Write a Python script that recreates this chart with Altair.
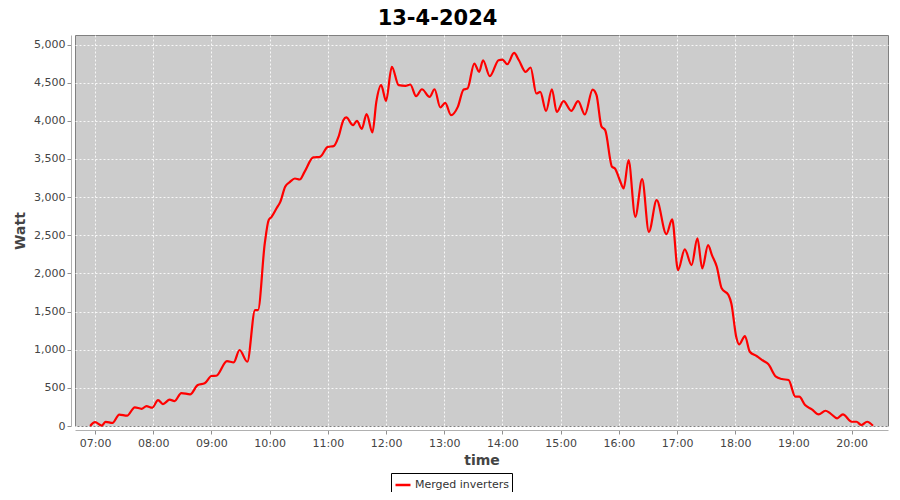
import altair as alt
import pandas as pd

# ---- data ----
times = ["06:55","07:00","07:07","07:11","07:18","07:25","07:33","07:41","07:48","07:53",
         "07:59","08:05","08:10","08:17","08:22","08:29","08:38","08:46","08:53","09:00",
         "09:05","09:16","09:23","09:29","09:37","09:45","09:48","09:55","09:59","10:02",
         "10:07","10:11","10:16","10:21","10:26","10:31","10:36","10:45","10:52","11:00",
         "11:06","11:11","11:16","11:19","11:26","11:30","11:35","11:40","11:46","11:50",
         "11:55","12:00","12:06","12:13","12:20","12:25","12:31","12:37","12:45","12:50",
         "12:56","13:01","13:07","13:14","13:20","13:24","13:31","13:36","13:40","13:47",
         "13:56","14:00","14:05","14:12","14:17","14:24","14:29","14:35","14:39","14:45",
         "14:51","14:56","15:03","15:11","15:18","15:25","15:33","15:37","15:42","15:46",
         "15:53","15:56","16:01","16:05","16:10","16:17","16:24","16:31","16:39","16:49",
         "16:55","17:01","17:08","17:15","17:21","17:26","17:32","17:36","17:41","17:46",
         "17:53","17:56","18:01","18:04","18:10","18:15","18:22","18:29","18:34","18:42",
         "18:48","18:55","19:02","19:06","19:12","19:19","19:26","19:33","19:38","19:45",
         "19:51","20:00","20:05","20:10","20:16","20:22"]
watts = [0,50,5,55,40,150,135,245,225,260,
         240,340,288,345,327,432,415,537,559,655,
         659,851,834,996,842,1520,1520,2393,2698,2742,
         2851,2938,3135,3200,3244,3231,3331,3520,3528,3659,
         3668,3790,4008,4044,3943,3999,3895,4087,3847,4248,
         4467,4261,4707,4467,4458,4476,4323,4414,4314,4414,
         4175,4235,4074,4183,4410,4423,4751,4641,4794,4585,
         4794,4803,4742,4890,4794,4641,4699,4358,4379,4130,
         4414,4117,4257,4130,4257,4083,4410,4336,3930,3877,
         3397,3375,3222,3114,3484,2742,3235,2545,2960,2515,
         2708,2043,2315,2109,2459,2066,2371,2240,2087,1804,
         1716,1607,1170,1070,1179,973,917,855,812,646,
         616,603,384,384,275,219,153,200,166,101,
         153,56,56,13,56,4]
series_name = "Merged inverters"
hour_ticks = list(range(7, 21))
watt_ticks = list(range(0, 5001, 500))

def to_hours(s):
    h, m = s.split(":")
    return int(h) + int(m) / 60.0

df = pd.DataFrame({
    "hour": [to_hours(t) for t in times],
    "Watt": watts,
    "series": [series_name] * len(times),
})

label_expr = "(datum.value < 10 ? '0' : '') + datum.value + ':00'"

line = alt.Chart(df).mark_line(strokeWidth=2.2, interpolate="monotone").encode(
    x=alt.X("hour:Q",
            scale=alt.Scale(domain=[6.656, 20.625], nice=False, zero=False),
            axis=alt.Axis(values=hour_ticks, labelExpr=label_expr, title="time",
                          offset=4, tickSize=4, labelPadding=3, titlePadding=5,
                          grid=True)),
    y=alt.Y("Watt:Q",
            scale=alt.Scale(domain=[0, 5125], nice=False),
            axis=alt.Axis(values=watt_ticks, format=",d", title="Watt",
                          offset=4, tickSize=4, labelPadding=2, titlePadding=6,
                          grid=True)),
    color=alt.Color("series:N",
                    scale=alt.Scale(domain=[series_name], range=["#ff0000"]),
                    legend=alt.Legend(title=None, orient="none",
                                      legendX=316, legendY=438,
                                      symbolType="stroke", symbolSize=225,
                                      symbolStrokeWidth=2.5,
                                      strokeColor="black", padding=3,
                                      labelFontSize=11, labelColor="#333333",
                                      labelFont="DejaVu Sans", labelOffset=3,
                                      direction="horizontal")),
)

chart = line.properties(
    width=813,
    height=391,
    background="white",
    title=alt.TitleParams("13-4-2024", fontSize=21, font="DejaVu Sans",
                          fontWeight="bold", color="black", anchor="middle",
                          dx=-44, offset=6),
    autosize=alt.AutoSizeParams(type="none"),
    padding={"left": 67, "top": 27, "right": 4, "bottom": 66},
).configure_view(
    fill="#cccccc", stroke="#808080", strokeWidth=1,
).configure_axis(
    labelFont="DejaVu Sans", labelFontSize=11, labelColor="#444444",
    titleFont="DejaVu Sans", titleFontSize=14, titleFontWeight="bold",
    titleColor="#444444",
    domainColor="#b0b0b0", tickColor="#909090",
    gridColor="#ffffff", gridDash=[2, 2], gridOpacity=0.85, gridWidth=1,
)

chart.save("out.html", embed_options={"renderer": "svg", "actions": False})
